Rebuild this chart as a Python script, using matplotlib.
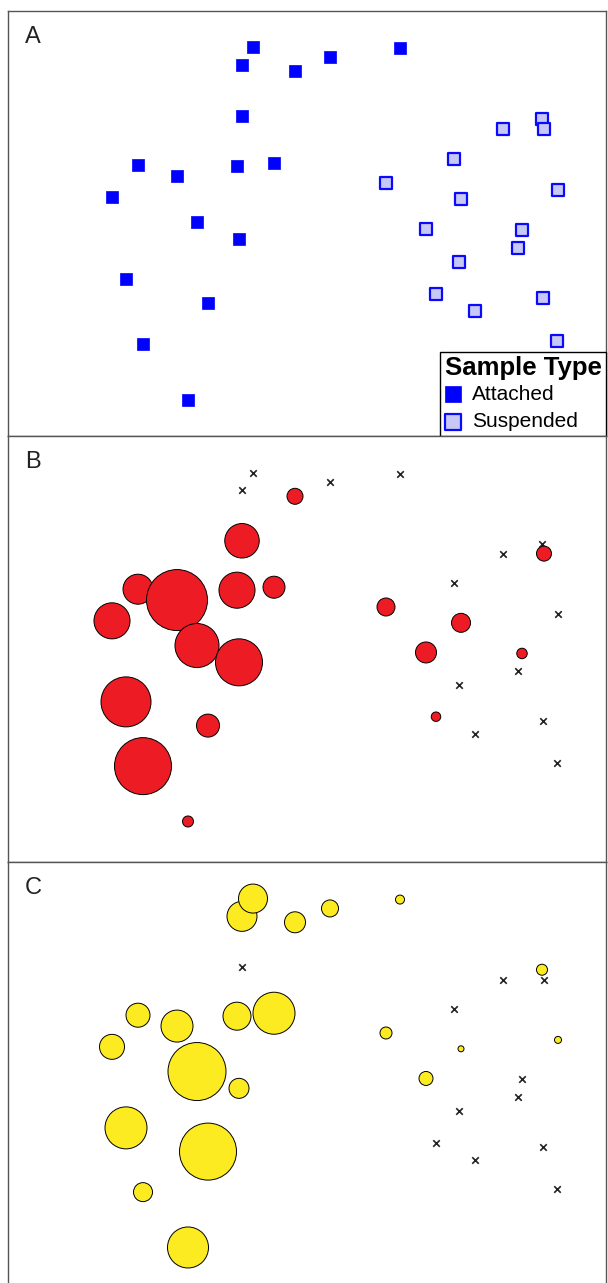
import matplotlib
matplotlib.use("Agg")
import matplotlib.pyplot as plt
import numpy as np

plt.rcParams['font.family'] = ['Liberation Sans', 'DejaVu Sans']

# Ordination coordinates (same samples in every panel)
att_x = [-0.65, -0.54, -0.12, 0.23, 0.93, -0.65, -1.69, -1.30, -0.70, -0.33,
         -1.95, -1.10, -0.68, -1.81, -0.99, -1.64, -1.19]
att_y = [1.59, 1.77, 1.53, 1.67, 1.76, 1.08, 0.59, 0.48, 0.58, 0.61,
         0.27, 0.02, -0.15, -0.55, -0.79, -1.20, -1.76]
sus_x = [2.35, 1.96, 2.37, 1.47, 0.79, 1.54, 2.51, 1.19, 2.15, 2.11,
         1.52, 1.29, 1.68, 2.36, 2.50]
sus_y = [1.05, 0.95, 0.95, 0.65, 0.41, 0.25, 0.34, -0.05, -0.06, -0.24,
         -0.38, -0.70, -0.87, -0.74, -1.17]

# Relative abundances shown as bubbles (0 = absent, drawn as x)
b_att = [0, 0, 2.56, 0, 0, 11.9, 9.0, 37.2, 13.0, 4.84, 13.0, 19.4, 22.1,
         25.0, 5.29, 32.5, 1.21]
b_sus = [0, 0, 2.25, 0, 3.24, 3.61, 0, 4.41, 1.1, 0, 0, 0.9, 0, 0, 0]
c_att = [9.0, 8.41, 4.41, 2.89, 0.81, 0, 5.76, 10.24, 7.84, 17.64, 6.25,
         33.64, 4.0, 17.64, 32.49, 3.61, 16.81]
c_sus = [1.21, 0, 0, 0, 1.44, 0.36, 0.49, 1.96, 0, 0, 0, 0, 0, 0, 0]

panel_labels = ["A", "B", "C"]
legend_title = "Sample Type"
legend_labels = ["Attached", "Suspended"]

W, H = 608, 1283
fig = plt.figure(figsize=(W / 100, H / 100), dpi=100)

def px_axes(left, top, width, height):
    return fig.add_axes([left / W, (H - top - height) / H, width / W, height / H])

axA = px_axes(8, 11, 598, 425)
axB = px_axes(8, 436, 598, 426)
axC = px_axes(8, 862, 598, 426)

for ax, lab in zip([axA, axB, axC], panel_labels):
    ax.set_xlim(-2.99, 2.99)
    ax.set_xticks([])
    ax.set_yticks([])
    for sp in ax.spines.values():
        sp.set_color('#555555')
        sp.set_linewidth(1.0)
    ax.text(0.028, 0.924, lab, transform=ax.transAxes, fontsize=17,
            color='#222222', ha='left', va='baseline')

axA.set_ylim(-2.12, 2.13)
axB.set_ylim(-2.17, 2.14)
axC.set_ylim(-2.17, 2.14)

# Panel A: sample type
sq = 82
h1 = axA.scatter(att_x, att_y, marker='s', s=sq, color='#0000ff',
                 edgecolors='#0000ff', linewidths=0.5, zorder=3)
h2 = axA.scatter(sus_x, sus_y, marker='s', s=sq * 0.8, facecolor='#c8c8f6',
                 edgecolors='#0a0aff', linewidths=1.6, zorder=3)
leg = axA.legend([h1, h2], legend_labels, title=legend_title, loc='lower right',
                 borderaxespad=0, fancybox=False, framealpha=1, edgecolor='black',
                 fontsize=15, title_fontproperties={'weight': 'bold', 'size': 18.5},
                 markerscale=1.35, handlelength=0.8, handletextpad=0.5,
                 borderpad=0.22, labelspacing=0.42, alignment='left')
leg.get_frame().set_linewidth(1.0)
leg._legend_box.sep = 3.0

K = 51.84  # pt^2 per abundance unit

def bubbles(ax, xs, ys, vals, color):
    xs = np.asarray(xs); ys = np.asarray(ys); vals = np.asarray(vals, float)
    zero = vals == 0
    ax.scatter(xs[zero], ys[zero], marker='x', s=22, color='#222222',
               linewidths=1.2, zorder=2)
    ax.scatter(xs[~zero], ys[~zero], s=vals[~zero] * K, color=color,
               edgecolors='black', linewidths=0.7, zorder=3)

bubbles(axB, att_x + sus_x, att_y + sus_y, b_att + b_sus, '#ed1c24')
bubbles(axC, att_x + sus_x, att_y + sus_y, c_att + c_sus, '#fdeb22')

fig.savefig("out.png", dpi=100)
